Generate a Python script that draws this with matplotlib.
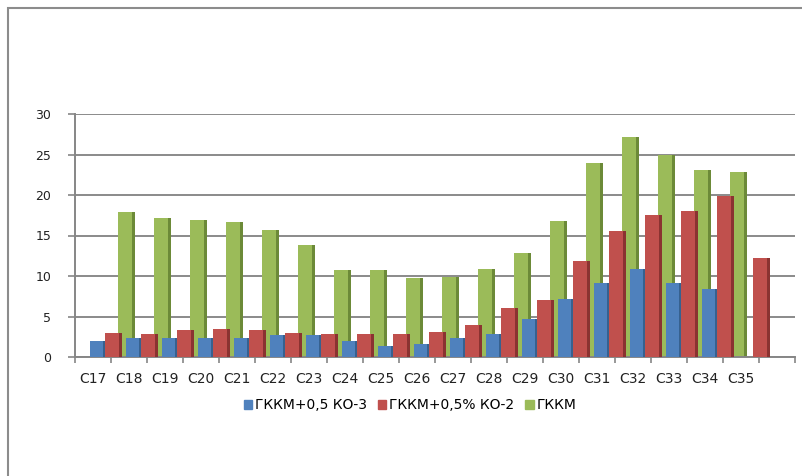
import numpy as np
import matplotlib
matplotlib.use("Agg")
import matplotlib.pyplot as plt
from matplotlib.patches import Patch, Rectangle

categories = ["C17", "C18", "C19", "C20", "C21", "C22", "C23", "C24", "C25", "C26",
              "C27", "C28", "C29", "C30", "C31", "C32", "C33", "C34", "C35"]

ko3 = [2.0, 2.4, 2.4, 2.4, 2.4, 2.7, 2.7, 2.0, 1.3, 1.6, 2.3, 2.8, 4.7, 7.1,
       9.1, 10.9, 9.1, 8.4]
ko2 = [3.0, 2.8, 3.3, 3.4, 3.3, 3.0, 2.9, 2.8, 2.8, 3.1, 3.9, 6.0, 7.0, 11.9,
       15.5, 17.5, 18.0, 19.9, 12.2]
gkkm = [17.9, 17.1, 16.9, 16.7, 15.7, 13.8, 10.8, 10.7, 9.7, 9.9, 10.9, 12.9,
        16.8, 23.9, 27.2, 24.9, 23.1, 22.9]

series_names = ["ГККМ+0,5 КО-3", "ГККМ+0,5% КО-2", "ГККМ"]

# (values, offset inside category, face, shaded side, zorder)
series = [
    (gkkm, 1.44, "#9bbb59", "#6c8a38", 2),
    (ko3, 0.65, "#4f81bd", "#37618f", 3),
    (ko2, 1.07, "#c0504d", "#8a3331", 4),
]
width = 0.48
side = 0.1

fig = plt.figure(figsize=(8.02, 4.76), dpi=100)
ax = fig.add_axes([75 / 802, 1 - 357 / 476, 720 / 802, 243 / 476])

for values, offset, face, dark, z in series:
    x = np.arange(len(values)) + offset
    ax.bar(x, values, width=width, color=face, zorder=z, linewidth=0)
    ax.bar(x + width / 2 - side, values, width=side, align="edge",
           color=dark, zorder=z, linewidth=0)

ax.set_xlim(0, 20)
ax.set_ylim(0, 30)
ax.set_yticks(np.arange(0, 31, 5))
ax.set_xticks(np.arange(0, 21))
ax.set_xticklabels([])
ax.set_xticks(np.arange(len(categories)) + 0.5, minor=True)
ax.set_xticklabels(categories, minor=True, fontsize=10, color="#222222")
ax.tick_params(axis="x", which="minor", length=0, pad=11)
ax.tick_params(axis="x", which="major", length=4, color="#868686", width=1.2)
ax.tick_params(axis="y", length=5, color="#868686", width=1.2, pad=12,
               labelsize=9, labelcolor="#222222")

ax.yaxis.grid(True, color="#8a8a8a", linewidth=1.4)
ax.set_axisbelow(True)
for s in ["top", "right"]:
    ax.spines[s].set_visible(False)
for s in ["left", "bottom"]:
    ax.spines[s].set_color("#868686")
    ax.spines[s].set_linewidth(1.4)

handles = [Patch(color=c) for c in ["#4f81bd", "#c0504d", "#9bbb59"]]
fig.legend(handles, series_names, loc="center", bbox_to_anchor=(410 / 802, 1 - 405 / 476),
           ncol=3, frameon=False, fontsize=10, handlelength=0.6, handleheight=0.6,
           handletextpad=0.2, columnspacing=0.8)

fig.patches.append(Rectangle((8 / 802, -0.1), 1.2, 1.1 - 8 / 476, transform=fig.transFigure,
                             fill=False, edgecolor="#8c8c8c", linewidth=1.5))

fig.savefig("out.png", dpi=100)
